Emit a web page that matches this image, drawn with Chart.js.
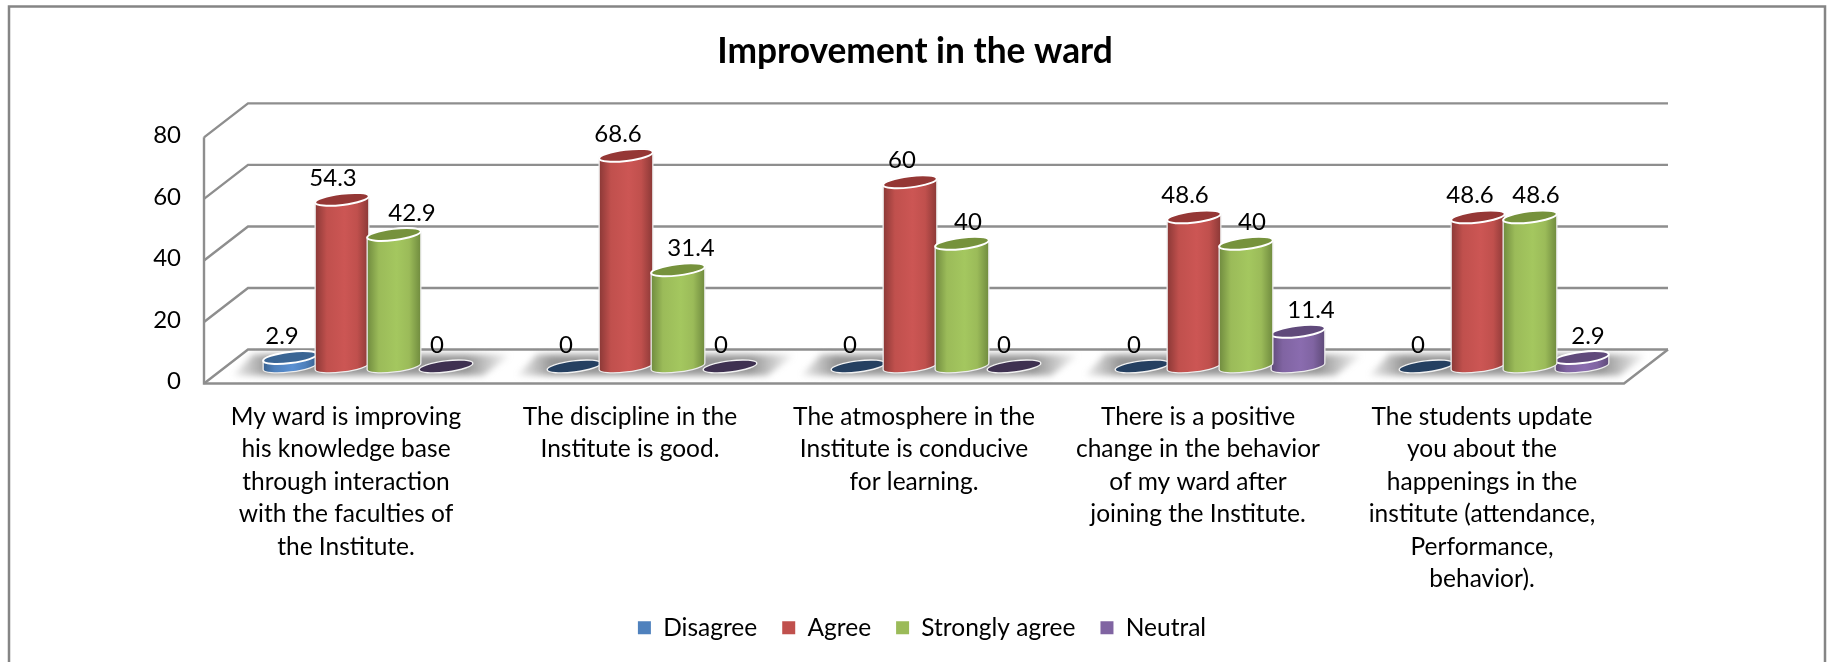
<!DOCTYPE html>
<html><head><meta charset="utf-8">
<style>html,body{margin:0;padding:0;background:#fff}canvas{display:block}</style>
<script src="https://cdn.jsdelivr.net/npm/chart.js@4/dist/chart.umd.min.js"></script>
</head><body><canvas id="c" width="1830" height="662"></canvas>
<script>
const categories = [
  ["My ward is improving","his knowledge base","through interaction","with the faculties of","the Institute."],
  ["The discipline in the","Institute is good."],
  ["The atmosphere in the","Institute is conducive","for learning."],
  ["There is a positive","change in the behavior","of my ward after","joining the Institute."],
  ["The students update","you about the","happenings in the","institute (attendance,","Performance,","behavior)."]
];
const disagree = [2.9, 0, 0, 0, 0];
const agree = [54.3, 68.6, 60, 48.6, 48.6];
const stronglyAgree = [42.9, 31.4, 40, 40, 48.6];
const neutral = [0, 0, 0, 11.4, 2.9];
const yTicks = [0, 20, 40, 60, 80];

// label nudges relative to each cylinder (style only)
const labelDx = [
  [-8,-9,18,-9],
  [-8,-8,13,-9],
  [-8,-8,6,-10],
  [-8,-9,6,13],
  [-8,-8,6,6]
];

const FONT = 'Lato';
const skins = [
  {base:'#4F81BD', dark:'#38618F', light:'#5A90D2', top:'#3A6594', flat:'#254061'},
  {base:'#C0504D', dark:'#8A3836', light:'#CC5654', top:'#953735', flat:'#632523'},
  {base:'#9BBB59', dark:'#6F8A3E', light:'#A4C75F', top:'#76923C', flat:'#4F6228'},
  {base:'#8064A2', dark:'#5E4A78', light:'#8A6CAF', top:'#604A7B', flat:'#3F3151'}
];
const DEPTH_X = 22, DEPTH_Y = 17, TILT = 7*Math.PI/180, RY = 5.6;
const LINE = '#8E8E8E';

function cylinder(ctx, x, top, base, w, s, v){
  const rx = w/2, c = Math.cos(TILT)*rx, d = Math.sin(TILT)*rx;
  if (v === 0){
    ctx.beginPath();
    ctx.ellipse(x, base, rx, RY, -TILT, 0, Math.PI*2);
    ctx.fillStyle = s.flat; ctx.fill();
    ctx.strokeStyle = '#F2F2F2'; ctx.lineWidth = 1.4; ctx.stroke();
    return;
  }
  const g = ctx.createLinearGradient(x-rx,0,x+rx,0);
  g.addColorStop(0,s.dark); g.addColorStop(0.22,s.base); g.addColorStop(0.55,s.light);
  g.addColorStop(0.78,s.base); g.addColorStop(1,s.dark);
  ctx.beginPath();
  ctx.moveTo(x-c, top+d);
  ctx.lineTo(x-c, base+d);
  ctx.ellipse(x, base, rx, RY, -TILT, Math.PI, 0, true);
  ctx.lineTo(x+c, top-d);
  ctx.ellipse(x, top, rx, RY, -TILT, 0, Math.PI, true);
  ctx.closePath();
  ctx.fillStyle = g; ctx.fill();
  ctx.strokeStyle = '#EDEDED'; ctx.lineWidth = 1.3; ctx.stroke();
  ctx.beginPath();
  ctx.ellipse(x, top, rx, RY, -TILT, 0, Math.PI*2);
  ctx.fillStyle = s.top; ctx.fill();
  ctx.strokeStyle = '#FFFFFF'; ctx.lineWidth = 2; ctx.stroke();
}

const scene = {
  id:'scene',
  afterLayout(chart){
    chart.legend.left += 7; chart.legend.right += 7;
  },
  beforeDraw(chart){
    const ctx = chart.ctx;
    ctx.save();
    ctx.strokeStyle = '#858585'; ctx.lineWidth = 2.5;
    ctx.beginPath(); ctx.moveTo(9,662); ctx.lineTo(9,6.5); ctx.lineTo(1825,6.5); ctx.lineTo(1825,662); ctx.stroke();
    ctx.restore();
  },
  beforeDatasetsDraw(chart){
    const {ctx, scales:{x, y}, chartArea:a} = chart;
    const fl = a.left-DEPTH_X, bl = a.left+DEPTH_X, fr = a.right-DEPTH_X, br = a.right+DEPTH_X;
    ctx.save();
    ctx.lineJoin='miter'; ctx.strokeStyle = LINE; ctx.lineWidth = 2.4;
    yTicks.forEach(t=>{
      const p = y.getPixelForValue(t);
      ctx.beginPath(); ctx.moveTo(fl,p); ctx.lineTo(bl,p-2*DEPTH_Y); ctx.lineTo(br,p-2*DEPTH_Y); ctx.stroke();
    });
    const y0 = y.getPixelForValue(0), yTop = y.getPixelForValue(80);
    ctx.beginPath(); ctx.moveTo(fl,yTop); ctx.lineTo(fl,y0); ctx.lineTo(fr,y0); ctx.lineTo(br,y0-2*DEPTH_Y); ctx.stroke();
    categories.forEach((_,i)=>{
      const c = x.getPixelForValue(i), t = y0-29, b = y0-8;
      const g = ctx.createLinearGradient(c-140,0,c+144,0);
      g.addColorStop(0,'rgba(125,125,125,0)'); g.addColorStop(0.14,'rgba(125,125,125,.8)');
      g.addColorStop(0.84,'rgba(125,125,125,.8)'); g.addColorStop(1,'rgba(125,125,125,0)');
      ctx.save(); ctx.filter='blur(3px)'; ctx.fillStyle=g;
      ctx.beginPath(); ctx.moveTo(c-135,b); ctx.lineTo(c-115,t); ctx.lineTo(c+144,t); ctx.lineTo(c+115,b); ctx.closePath(); ctx.fill();
      ctx.restore();
    });
    const metas = [0,1,3,2].map(k=>({k, m:chart.getDatasetMeta(k)}));
    const n = categories.length;
    for(let i=0;i<n;i++){
      metas.forEach(({k,m})=>{
        const el = m.data[i], v = chart.data.datasets[k].data[i];
        cylinder(ctx, el.x, el.y, el.base, el.width, skins[k], v);
      });
    }
    ctx.fillStyle='#000'; ctx.font='24px '+FONT; ctx.textAlign='center'; ctx.textBaseline='middle';
    for(let i=0;i<n;i++){
      [0,1,2,3].forEach(k=>{
        const el = chart.getDatasetMeta(k).data[i], v = chart.data.datasets[k].data[i];
        ctx.fillText(String(v), el.x+labelDx[i][k], el.y-21.5);
      });
    }
    ctx.restore();
    return false;
  }
};

const ds = (label,data,k)=>({label,data,backgroundColor:skins[k].base,borderWidth:0,yAxisID:'yBars',
  barPercentage:1.04,categoryPercentage:0.7324});

new Chart(document.getElementById('c'),{
  type:'bar',
  data:{labels:categories,datasets:[ds('Disagree',disagree,0),ds('Agree',agree,1),ds('Strongly agree',stronglyAgree,2),ds('Neutral',neutral,3)]},
  plugins:[scene],
  options:{
    responsive:false,animation:false,
    layout:{padding:{left:0,right:0,top:0,bottom:12}},
    plugins:{
      tooltip:{enabled:false},
      title:{display:true,text:'Improvement in the ward',color:'#000',font:{family:FONT,size:35.3,weight:'bold',lineHeight:1.2},padding:{top:30,bottom:65}},
      legend:{position:'bottom',labels:{color:'#000',font:{family:FONT,size:24.5},boxWidth:13,boxHeight:13,padding:25}}
    },
    scales:{
      x:{offset:true,grid:{display:false},border:{display:false},
        ticks:{autoSkip:false,maxRotation:0,minRotation:0,labelOffset:-DEPTH_X,padding:9,color:'#000',font:{family:FONT,size:24.5,lineHeight:1.327}},
        afterFit(s){s.height=207;}},
      y:{position:'left',min:0,max:80,grid:{display:false},border:{display:false},
        afterBuildTicks(s){s.ticks=yTicks.map(v=>({value:v}));},
        ticks:{padding:37,labelOffset:-2,color:'#000',font:{family:FONT,size:24}},
        afterFit(s){s.width=226;}},
      yBars:{position:'right',min:-DEPTH_Y/3.0625,max:80-DEPTH_Y/3.0625,grid:{display:false},border:{display:false},
        ticks:{display:false},afterFit(s){s.width=184;}}
    }
  }
});
</script></body></html>
